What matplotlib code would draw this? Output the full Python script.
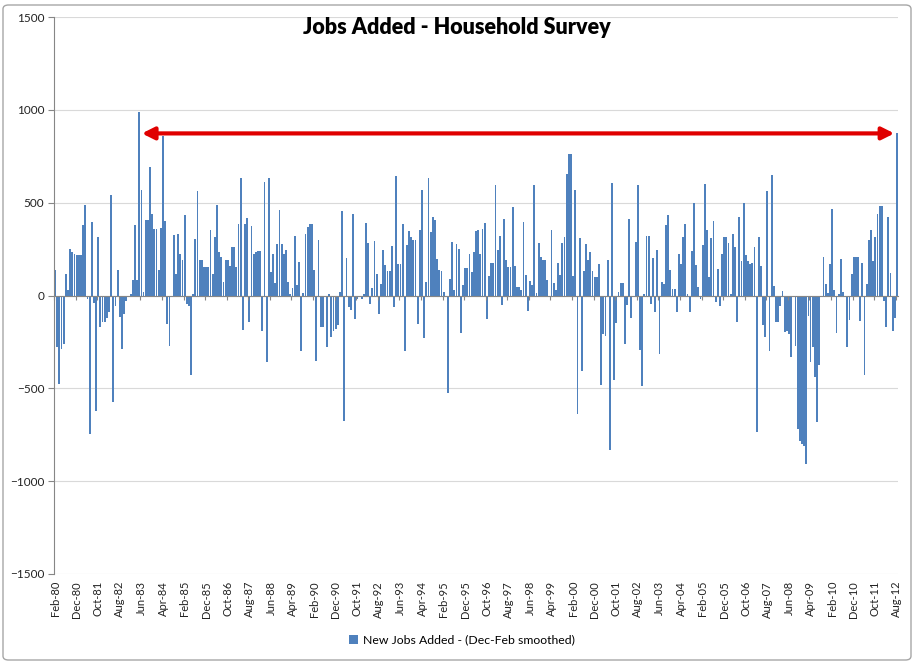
import numpy as np
import pandas as pd
import matplotlib
matplotlib.use('Agg')
import matplotlib.pyplot as plt
from matplotlib.patches import FancyBboxPatch

# ---------------- data (monthly change, thousands) ----------------
start_month = '1980-02'
jobs_added = [
    140, -280, -477, -288, -260, 117, 27, 252, 234, 225,
    216, 216, 216, 378, 486, -20, -747, 396, -40, -621,
    315, -171, -144, -144, -120, -90, 540, -572, -54, 139,
    -117, -288, -99, -27, -10, 10, 81, 378, 81, 990,
    570, 20, 405, 405, 693, 441, 360, 360, 135, 365,
    858, 401, -153, -270, 0, 324, 117, 333, 225, 193,
    432, -45, -54, -426, 10, 306, 563, 189, 189, 153,
    153, 153, 354, 117, 315, 486, 234, 207, 72, 193,
    193, 160, 261, 261, 153, 383, 635, -185, 387, 419,
    -144, 372, 221, 234, 239, 239, -192, 612, -360, 635,
    126, 221, 67, 279, 459, 279, 221, 243, 72, 9,
    40, 318, 54, 182, -297, 13, 333, 369, 383, 383,
    139, -351, 297, -171, -171, -9, -279, 9, -225, -189,
    -180, -160, 20, 455, -674, 201, -63, -80, 441, -126,
    -18, -10, -20, 10, 390, 282, -45, 41, 293, 117,
    -99, 60, 247, 162, 130, 130, 264, -63, 642, 171,
    171, 387, -300, 270, 347, 315, 300, 300, -153, 354,
    570, -228, 72, 635, 342, 423, 405, 198, 135, 131,
    18, -9, -527, 90, 288, 31, 279, 252, -203, 54,
    149, 149, 221, 126, 232, 347, 351, 221, 360, 390,
    -126, 103, 175, 175, 594, 247, 318, -49, 414, 189,
    153, 153, 477, 157, 45, 45, 30, 396, 113, -81,
    77, 54, 594, 13, 282, 210, 189, 189, 85, -9,
    354, 67, 31, 175, 108, 282, 315, 653, 761, 761,
    103, 570, -639, 311, -405, 131, 275, 193, 234, 131,
    99, 99, 167, -480, -207, -216, 193, -833, 606, -455,
    -149, 18, 67, 67, -261, -49, 414, -121, -10, 288,
    594, -293, -486, 9, 318, 318, -45, 203, -90, 243,
    -315, 72, 63, 378, 435, 139, 36, 36, -90, 225,
    171, 315, 383, 9, -90, 239, 498, 162, 45, -18,
    270, 599, 354, 99, 311, 401, -36, 144, -54, 225,
    315, 315, 282, 10, 329, 261, -144, 423, 185, 498,
    216, 185, 171, 175, 261, -737, 315, 157, -157, -225,
    563, -297, 648, 49, -144, -144, -54, 23, -198, -189,
    -207, -333, -10, -270, -719, -782, -800, -809, -908, -108,
    -360, -279, -441, -683, -372, 0, 207, 63, 13, 167,
    468, 31, -203, 9, 198, 20, 0, -275, -131, 117,
    207, 210, 210, -139, 176, -426, 63, 300, 351, 185,
    315, 441, 480, 480, -27, -171, 423, 121, -193, -121,
    873,
]
months = pd.period_range(start_month, periods=len(jobs_added), freq='M')
month_labels = [m.strftime('%b-%y') for m in months]
label_step = 10
y_ticks = [-1500, -1000, -500, 0, 500, 1000, 1500]
title = 'Jobs Added - Household Survey'
series_name = 'New Jobs Added - (Dec-Feb smoothed)'

# ---------------- drawing ----------------
plt.rcParams['font.family'] = ['Lato', 'DejaVu Sans']
W, H = 915, 664
fig = plt.figure(figsize=(W / 100, H / 100), dpi=100)
fig.patch.set_facecolor('white')

L, R, T, B = 54, 898, 17, 574
ax = fig.add_axes([L / W, 1 - B / H, (R - L) / W, (B - T) / H])
x = np.arange(len(jobs_added))
ax.bar(x, jobs_added, width=0.85, color='#4F81BD', linewidth=0,
       label=series_name, zorder=2)
ax.set_xlim(-0.5, len(x) - 0.5)
ax.set_ylim(y_ticks[0], y_ticks[-1])
ax.set_yticks(y_ticks)
ax.yaxis.grid(True, color='#D9D9D9', lw=0.8)
ax.set_axisbelow(True)
for s in ['top', 'right', 'bottom']:
    ax.spines[s].set_visible(False)
ax.spines['left'].set_color('#868686')
ax.tick_params(axis='y', length=4, color='#868686', labelsize=8.5,
               pad=3, labelcolor='#222222')
ax.set_xticks(x[::label_step])
ax.set_xticklabels(month_labels[::label_step], rotation=90, fontsize=8,
                   color='#222222')
ax.tick_params(axis='x', length=0, pad=5)

# zero axis with category tick marks
ax2 = ax.twiny()
ax2.set_xlim(ax.get_xlim())
ax2.xaxis.set_ticks_position('bottom')
ax2.spines['bottom'].set_position(('data', 0))
for s in ['top', 'right', 'left']:
    ax2.spines[s].set_visible(False)
ax2.spines['bottom'].set_color('#868686')
ax2.set_xticks(x[::label_step] - 0.5)
ax2.set_xticklabels([])
ax2.tick_params(axis='x', length=3, color='#868686', direction='out')

# red double arrow from the peak to the latest value
peak_idx = int(np.argmax(jobs_added))
ax2.annotate('', xy=(x[-1] - 1.2, jobs_added[-1]),
             xytext=(peak_idx + 1.2, jobs_added[-1]),
             arrowprops=dict(arrowstyle='<|-|>', color='#E00000', lw=3,
                             mutation_scale=18, shrinkA=0, shrinkB=0))

fig.text(0.499, 1 - 28 / H, title, ha='center', va='center',
         fontsize=15.5, fontweight='heavy', color='black')

ax.legend(loc='center', bbox_to_anchor=(462 / W, 1 - 640 / H),
          bbox_transform=fig.transFigure, frameon=False, fontsize=8.8,
          handlelength=0.7, handleheight=0.7, handletextpad=0.4)

fig.patches.append(FancyBboxPatch((3 / W, 4 / H), 908 / W, 655 / H,
                                  boxstyle='round,pad=0,rounding_size=0.006',
                                  transform=fig.transFigure, fill=False,
                                  edgecolor='#A6A6A6', lw=1))

fig.savefig('out.png', dpi=100)
